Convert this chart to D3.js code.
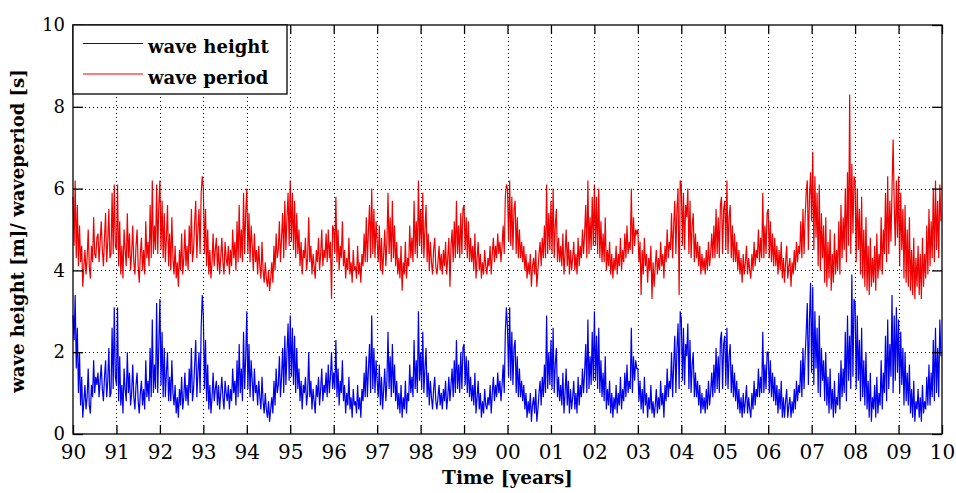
<!DOCTYPE html>
<html>
<head>
<meta charset="utf-8">
<script src="https://cdn.jsdelivr.net/npm/d3@7"></script>
<style>
  html, body { margin: 0; padding: 0; background: #fff; }
  svg { display: block; }
</style>
</head>
<body>
<svg id="chart" width="956" height="493"></svg>
<script>
// Time axis: 1990 to 2010, 40 samples per year
const startYear = 1990;
const endYear = 2010;
const samplesPerYear = 40;

const yearTickLabels = ["90","91","92","93","94","95","96","97","98","99","00","01","02","03","04","05","06","07","08","09","10"];
const valueTicks = [0, 2, 4, 6, 8, 10];

const seriesNames = ["wave height", "wave period"];
const seriesColors = ["#0000f0", "#f00000"];

// Significant wave height [m]
const waveHeight = [
  // 1990
  2.9,2.3,3.4,1.6,2.6,1.0,2.0,0.7,1.4,0.4,0.8,1.2,0.6,0.9,1.6,0.7,0.5,1.2,0.9,1.8,1.0,1.4,1.2,1.5,0.9,1.3,1.7,1.1,0.8,1.4,1.8,0.9,1.3,2.1,0.9,1.0,2.6,1.1,3.1,1.4,
  // 1991
  1.2,3.1,0.8,1.9,0.7,1.2,0.5,1.6,1.1,0.8,2.0,1.0,1.5,0.7,1.0,1.7,0.9,0.6,1.2,1.5,0.8,0.5,1.0,1.3,0.7,1.1,0.6,1.8,0.9,1.3,0.8,2.1,0.9,2.8,1.0,1.7,1.1,3.2,1.0,2.2,
  // 1992
  3.3,1.2,2.5,0.9,2.1,0.9,1.5,2.0,0.8,1.4,0.8,1.8,1.0,0.7,1.2,0.5,0.9,0.4,1.1,0.7,1.4,0.6,0.9,1.5,0.8,1.2,0.7,1.6,1.0,2.1,0.8,1.1,1.7,2.3,0.9,1.5,2.0,1.0,2.6,3.4,
  // 1993
  2.9,1.1,2.3,0.8,1.7,0.6,1.2,0.5,0.9,1.5,0.8,1.1,1.3,0.7,1.2,0.6,1.0,1.4,0.9,0.6,1.3,1.0,0.8,1.2,0.6,1.1,0.8,1.6,1.0,1.3,0.7,1.8,0.9,2.2,1.0,1.6,0.8,2.5,1.1,1.9,
  // 1994
  3.0,1.1,2.2,0.9,1.8,1.3,0.8,1.6,1.0,1.2,0.7,1.3,0.9,0.6,1.4,0.8,0.5,1.0,0.6,0.4,0.8,0.3,0.6,0.9,0.5,1.3,0.7,1.6,1.0,1.2,1.9,0.9,1.4,2.1,1.0,2.4,1.2,2.0,2.7,1.3,
  // 1995
  2.9,1.4,2.6,1.2,2.4,1.0,2.1,1.1,1.6,0.8,1.3,0.6,1.2,1.0,1.4,0.7,1.0,2.0,0.9,1.3,0.6,1.1,0.8,0.5,1.2,0.9,1.4,0.7,1.1,1.6,0.8,1.2,1.0,1.5,0.9,1.7,1.0,1.4,2.0,1.1,
  // 1996
  1.5,1.1,2.3,0.9,1.6,0.7,1.3,1.0,1.8,0.8,1.2,0.5,1.0,0.7,1.4,0.6,0.9,0.4,1.1,0.7,0.8,0.5,1.2,0.6,0.9,0.4,1.1,0.8,1.5,0.9,1.9,0.9,1.6,2.2,1.0,2.9,1.1,2.1,1.0,1.8,
  // 1997
  1.3,0.9,1.7,0.7,1.4,0.6,1.1,1.6,0.8,1.3,2.5,1.1,1.9,0.9,2.2,1.0,1.7,0.8,1.3,0.6,1.0,0.5,1.2,0.4,0.9,0.6,1.3,0.5,1.0,0.8,1.7,1.0,1.4,0.9,2.3,1.1,1.8,1.0,3.0,1.3,
  // 1998
  2.0,1.1,2.5,1.0,1.6,2.1,0.9,1.5,0.7,1.3,0.9,0.6,1.1,1.4,0.8,0.6,0.9,1.2,0.7,1.0,0.6,1.1,0.8,1.3,0.6,0.9,1.4,0.8,1.2,1.6,0.9,1.8,1.0,2.3,1.1,1.7,1.0,2.0,1.1,2.1,
  // 1999
  2.2,1.2,1.9,1.0,1.8,0.9,1.4,0.8,1.2,0.7,1.5,0.5,0.9,1.3,0.6,1.0,0.4,0.8,0.5,1.1,0.7,0.6,0.9,0.7,1.2,0.5,1.0,1.4,0.8,1.2,0.9,1.5,1.0,1.3,0.8,1.2,1.7,1.0,2.5,3.1,
  // 2000
  2.6,1.4,3.1,1.3,2.5,1.2,2.1,2.3,1.0,1.9,0.9,1.6,0.9,1.3,0.8,1.2,0.6,1.0,0.4,0.8,0.5,1.0,0.3,0.7,0.9,0.5,1.1,0.3,0.6,1.0,1.3,0.7,1.4,0.9,1.7,1.0,2.9,1.1,2.0,1.2,
  // 2001
  2.3,1.1,2.6,1.0,1.7,2.1,0.9,1.4,0.8,1.2,0.7,1.5,0.5,1.0,1.6,0.7,1.3,0.5,1.1,0.6,0.9,1.3,0.6,1.0,0.5,1.4,0.7,1.2,0.9,1.6,1.0,1.5,2.2,1.0,2.8,1.1,1.9,1.2,2.5,1.3,
  // 2002
  3.0,1.3,2.4,1.1,2.6,1.0,1.8,0.9,1.5,0.8,1.9,0.6,1.1,0.7,1.3,0.5,1.0,0.4,0.9,0.6,1.2,0.5,1.0,0.7,1.4,0.6,1.1,0.8,1.5,0.9,1.7,1.0,1.3,1.1,2.6,1.0,1.9,1.3,1.8,1.6,
  // 2003
  1.6,0.8,1.3,0.6,1.1,0.5,1.4,0.7,1.0,0.4,0.9,0.6,1.2,0.5,0.8,0.4,0.7,1.1,0.5,0.9,0.6,1.3,0.7,1.0,0.4,1.2,0.8,1.6,0.9,1.3,1.1,2.0,0.9,1.7,2.4,1.0,2.1,2.7,1.1,3.0,
  // 2004
  2.8,1.3,2.6,1.2,2.2,1.9,2.7,1.1,2.3,1.0,1.7,2.0,0.9,1.5,0.9,1.3,0.7,1.2,0.5,1.0,0.6,0.9,0.5,1.1,0.6,1.3,0.7,1.0,1.5,0.9,1.7,1.0,2.1,1.1,1.9,1.0,2.3,2.5,1.1,2.2,
  // 2005
  2.4,1.2,2.6,1.1,1.9,2.2,1.0,1.7,0.9,1.5,0.8,1.3,0.6,1.1,0.5,0.9,0.4,1.0,0.5,0.8,1.2,0.5,0.9,0.6,0.4,1.0,0.6,1.3,0.7,1.1,0.9,1.6,0.9,1.4,1.0,2.5,1.0,1.7,1.1,2.0,
  // 2006
  2.0,1.0,1.8,0.9,1.5,0.8,1.4,0.7,1.2,0.5,1.1,0.6,1.3,0.4,0.9,0.4,0.8,1.1,0.4,0.7,0.9,0.4,0.8,0.5,1.1,0.6,1.3,0.8,1.2,1.0,1.8,0.9,2.1,1.1,1.9,2.5,3.2,1.2,2.8,3.7,
  // 2007
  1.5,3.6,1.2,3.0,1.6,2.6,1.0,2.9,0.9,2.1,1.3,1.8,0.8,2.0,0.7,1.4,0.5,1.6,0.6,1.1,0.4,1.3,0.5,0.9,0.7,1.5,0.6,1.8,0.9,1.6,1.0,2.5,0.8,2.9,1.3,2.4,1.1,3.9,1.4,3.3,
  // 2008
  3.2,1.1,2.9,1.3,2.3,0.8,2.6,0.9,1.8,0.7,2.0,0.6,1.3,0.4,1.5,0.3,0.9,0.6,1.2,0.4,1.4,0.5,1.0,0.7,1.8,0.6,1.5,1.0,2.4,0.8,2.8,1.1,2.2,1.4,3.4,1.0,2.9,1.3,3.1,1.5,
  // 2009
  2.8,1.0,2.5,1.2,2.1,0.7,2.0,0.8,1.5,0.7,1.7,0.5,1.1,0.4,1.3,0.3,0.8,0.6,1.1,0.4,0.9,0.3,1.2,0.5,0.8,0.6,1.4,0.7,1.7,0.7,1.5,0.9,2.3,0.8,2.6,1.0,2.1,0.9,2.8,1.9
];

// Mean wave period [s]
const wavePeriod = [
  // 1990
  5.8,4.6,6.2,4.3,5.6,4.1,5.1,4.2,4.6,3.6,4.1,4.5,3.9,4.3,5.0,4.1,3.8,4.6,4.2,5.3,4.4,4.3,4.8,4.9,4.2,4.7,5.2,4.5,4.1,4.8,5.4,4.2,4.7,5.5,4.3,4.4,5.9,4.4,6.1,4.6,
  // 1991
  4.5,6.1,4.1,5.2,3.9,4.6,3.8,5.0,4.5,4.1,5.4,4.3,4.9,4.0,4.4,5.1,4.2,3.9,4.6,5.0,4.1,3.7,4.4,4.8,4.0,4.5,3.9,5.2,4.3,4.7,4.1,5.6,4.3,6.2,4.4,5.1,4.5,6.1,4.4,5.6,
  // 1992
  6.2,4.5,5.7,4.3,5.4,4.2,4.8,5.6,4.1,4.9,4.0,5.3,4.3,3.9,4.6,3.8,4.2,3.6,4.5,4.0,4.9,3.9,4.3,5.0,4.1,4.6,4.0,5.1,4.4,5.5,4.2,4.5,5.2,5.7,4.3,5.0,5.5,4.4,5.9,6.3,
  // 1993
  6.0,4.4,5.5,4.1,5.0,3.9,4.5,3.8,4.2,4.9,4.1,4.5,4.8,4.0,4.6,3.9,4.3,4.8,4.2,3.9,4.7,4.3,4.1,4.6,3.9,4.5,4.1,5.0,4.3,4.7,4.0,5.2,4.2,5.6,4.3,5.0,4.2,5.9,4.4,5.4,
  // 1994
  6.0,4.4,5.4,4.2,5.1,4.6,4.0,4.9,4.2,4.5,3.9,4.6,4.1,3.8,4.7,4.0,3.7,4.2,3.8,3.6,4.0,3.5,3.8,4.2,3.7,4.6,4.0,4.9,4.3,4.5,5.2,4.2,4.8,5.4,4.3,5.7,4.5,5.3,5.9,4.6,
  // 1995
  6.2,4.7,5.9,4.5,5.7,4.3,5.4,4.4,5.0,4.1,4.7,3.9,4.5,4.3,4.8,4.0,4.3,5.3,4.2,4.6,3.9,4.4,4.1,3.8,4.5,4.2,4.8,4.0,4.4,5.0,4.1,4.5,4.3,4.9,4.2,5.0,4.3,4.7,3.3,5.1,
  // 1996
  5.0,4.4,5.8,4.2,5.0,4.0,4.6,4.3,5.2,4.1,4.5,3.8,4.3,4.0,4.8,3.9,4.2,3.7,4.5,4.0,4.1,3.8,4.6,3.9,4.2,3.7,4.4,4.1,4.9,4.2,5.3,4.2,5.0,5.6,4.3,6.0,4.4,5.5,4.3,5.2,
  // 1997
  4.7,4.2,5.1,4.0,4.8,3.9,4.4,5.0,4.1,4.7,5.9,4.4,5.3,4.2,5.7,4.3,5.1,4.1,4.7,3.9,4.3,3.8,4.6,3.5,4.2,3.9,4.7,3.8,4.3,4.1,5.1,4.3,4.8,4.2,5.7,4.4,5.2,4.3,6.2,4.6,
  // 1998
  5.5,4.4,5.9,4.3,5.0,5.6,4.2,4.9,4.0,4.7,4.2,3.9,4.5,4.8,4.1,3.9,4.2,4.6,4.0,4.4,3.9,4.5,4.1,4.7,3.9,4.3,4.8,3.6,4.6,5.0,4.2,5.2,4.3,5.7,4.4,5.1,4.3,5.4,4.4,5.5,
  // 1999
  5.6,4.5,5.3,4.3,5.2,4.2,4.8,4.2,4.6,4.0,4.9,3.8,4.3,4.7,4.0,4.4,3.8,4.2,3.9,4.5,4.1,3.9,4.3,4.1,4.6,3.9,4.4,4.8,4.2,4.6,4.3,4.9,4.4,4.7,4.2,4.6,5.1,4.4,5.8,6.1,
  // 2000
  6.0,4.7,6.2,4.6,5.8,4.5,5.5,5.7,4.4,5.3,4.3,5.0,4.3,4.7,4.2,4.6,4.0,4.4,3.8,4.2,3.9,4.4,3.6,4.1,4.3,3.9,4.5,3.6,4.0,4.4,4.7,4.1,4.8,4.3,5.1,4.3,6.1,4.4,5.4,4.5,
  // 2001
  5.7,4.4,6.0,4.3,5.1,5.5,4.2,4.8,4.2,4.6,4.1,4.9,3.9,4.4,5.0,4.1,4.7,3.9,4.5,4.0,4.3,4.7,4.0,4.4,3.9,4.8,4.1,4.6,4.3,5.0,4.4,4.9,5.6,4.3,6.2,4.4,5.3,4.5,5.8,4.6,
  // 2002
  6.1,4.6,5.8,4.4,6.0,4.3,5.2,4.2,4.9,4.2,5.3,4.0,4.5,4.1,4.7,3.9,4.4,3.8,4.3,4.0,4.6,3.9,4.4,4.1,4.8,4.0,4.5,4.2,4.9,4.3,5.1,4.4,4.7,4.5,6.0,4.4,5.3,4.6,5.0,4.9,
  // 2003
  5.0,4.2,4.7,3.4,4.5,3.9,4.8,4.1,4.4,3.7,4.3,4.0,4.6,3.3,4.2,3.6,4.1,4.5,3.9,4.3,4.0,4.7,4.1,4.4,3.8,4.6,4.2,5.0,4.3,4.7,4.5,5.4,4.3,5.1,5.7,4.4,5.5,6.0,3.4,6.2,
  // 2004
  6.1,4.6,5.9,4.5,5.6,5.3,6.0,4.4,5.7,4.3,5.1,5.4,4.2,4.9,4.3,4.7,4.1,4.6,3.9,4.4,4.0,4.3,3.9,4.5,4.0,4.7,4.1,4.4,4.9,4.3,5.1,4.3,5.5,4.4,5.3,4.3,5.6,5.8,4.4,5.5,
  // 2005
  5.7,4.5,6.2,4.4,5.3,5.6,4.3,5.1,4.2,4.9,4.2,4.7,4.0,4.5,3.9,4.3,3.7,4.4,3.9,4.2,4.6,3.9,4.3,4.0,3.8,4.4,4.0,4.7,4.1,4.5,4.3,5.0,4.2,4.8,4.3,5.9,4.3,5.1,4.4,5.4,
  // 2006
  5.5,4.3,5.2,4.2,4.9,4.1,4.8,4.1,4.6,3.9,4.5,4.0,4.7,3.8,4.3,3.7,4.2,4.6,3.8,4.1,4.3,3.6,4.2,3.9,4.5,4.0,4.7,4.2,4.6,4.4,5.2,4.3,5.5,4.4,5.3,5.9,6.2,4.5,5.8,6.4,
  // 2007
  5.2,6.9,4.5,6.3,4.8,5.9,4.1,6.1,4.0,5.4,4.3,5.1,3.7,5.3,3.6,4.7,3.8,5.0,3.5,4.4,3.7,4.9,3.9,4.5,4.0,5.2,3.9,5.6,4.3,5.3,4.5,6.0,4.2,6.4,4.6,8.3,4.4,6.6,4.9,6.3,
  // 2008
  6.2,4.2,6.0,4.5,5.5,3.9,5.8,3.8,5.0,3.6,5.3,3.5,4.6,3.4,4.8,3.6,4.3,3.7,4.6,3.5,4.9,3.8,4.4,4.0,5.3,3.9,5.0,4.4,5.9,4.2,6.3,4.4,5.7,4.7,6.0,7.2,5.6,4.6,6.2,4.8,
  // 2009
  6.3,4.1,5.9,4.5,5.5,3.8,5.6,3.7,5.0,3.6,5.3,3.5,4.5,3.4,4.8,3.3,4.3,3.6,4.6,3.4,4.4,3.3,4.8,3.6,4.4,3.8,5.1,3.9,5.5,4.1,5.2,4.3,6.0,4.2,6.2,4.5,5.7,4.3,6.1,5.2
];

const svg = d3.select("#chart");

const plot = { left: 73, right: 942, top: 25, bottom: 434 };

const x = d3.scaleLinear().domain([startYear, endYear]).range([plot.left, plot.right]);
const y = d3.scaleLinear().domain([0, 10]).range([plot.bottom, plot.top]);

const yearTicks = d3.range(startYear, endYear + 1);
const timeOf = i => startYear + i / samplesPerYear;

// Data lines
const line = d3.line()
  .x((d, i) => x(timeOf(i)))
  .y(d => y(d));

[waveHeight, wavePeriod].forEach((series, k) => {
  svg.append("path")
    .datum(series)
    .attr("fill", "none")
    .attr("stroke", seriesColors[k])
    .attr("stroke-width", 1.2)
    .attr("stroke-linejoin", "miter")
    .attr("d", line);
});

// Dotted grid
const grid = svg.append("g").attr("stroke", "#000").attr("stroke-width", 1).attr("stroke-dasharray", "1,3");
grid.selectAll("line.v")
  .data(yearTicks.slice(1, -1))
  .join("line")
  .attr("class", "v")
  .attr("x1", d => Math.round(x(d)) + 0.5).attr("x2", d => Math.round(x(d)) + 0.5)
  .attr("y1", plot.top).attr("y2", plot.bottom);
grid.selectAll("line.h")
  .data(valueTicks.slice(1, -1))
  .join("line")
  .attr("class", "h")
  .attr("y1", d => Math.round(y(d)) + 0.5).attr("y2", d => Math.round(y(d)) + 0.5)
  .attr("x1", plot.left).attr("x2", plot.right);

// Axes with inward ticks
const fmtYear = d => yearTickLabels[d - startYear];

const xAxis = svg.append("g")
  .attr("transform", `translate(0,${plot.bottom})`)
  .call(d3.axisBottom(x).tickValues(yearTicks).tickFormat(fmtYear).tickSize(-9).tickPadding(11));
xAxis.selectAll("text").attr("font-family", "'DejaVu Serif', serif").attr("font-size", 20).attr("fill", "#000");

svg.append("g")
  .attr("transform", `translate(0,${plot.top})`)
  .call(d3.axisTop(x).tickValues(yearTicks).tickFormat("").tickSize(-9));

const yAxis = svg.append("g")
  .attr("transform", `translate(${plot.left},0)`)
  .call(d3.axisLeft(y).tickValues(valueTicks).tickSize(-10).tickPadding(8));
yAxis.selectAll("text").attr("font-family", "'DejaVu Serif', serif").attr("font-size", 18).attr("fill", "#000");

svg.append("g")
  .attr("transform", `translate(${plot.right},0)`)
  .call(d3.axisRight(y).tickValues(valueTicks).tickFormat("").tickSize(-10));

svg.selectAll(".domain").remove();
svg.selectAll(".tick line").attr("stroke", "#000").attr("stroke-width", 1.3);

// Frame
svg.append("rect")
  .attr("x", plot.left).attr("y", plot.top)
  .attr("width", plot.right - plot.left).attr("height", plot.bottom - plot.top)
  .attr("fill", "none").attr("stroke", "#000").attr("stroke-width", 1.3);

// Axis titles
svg.append("text")
  .attr("x", (plot.left + plot.right) / 2)
  .attr("y", 484)
  .attr("text-anchor", "middle")
  .attr("font-family", "'DejaVu Serif', serif")
  .attr("font-weight", "bold")
  .attr("font-size", 18.5)
  .text("Time [years]");

svg.append("text")
  .attr("transform", "translate(24,231) rotate(-90)")
  .attr("text-anchor", "middle")
  .attr("font-family", "'DejaVu Serif', serif")
  .attr("font-weight", "bold")
  .attr("font-size", 18)
  .text("wave height [m]/ waveperiod [s]");

// Legend
const legend = svg.append("g");
legend.append("rect")
  .attr("x", plot.left).attr("y", plot.top)
  .attr("width", 214).attr("height", 69)
  .attr("fill", "#fff").attr("stroke", "#000").attr("stroke-width", 1.3);
seriesNames.forEach((name, k) => {
  const ly = 43.5 + k * 30.5;
  legend.append("line")
    .attr("x1", 83).attr("x2", 143)
    .attr("y1", ly).attr("y2", ly)
    .attr("stroke", seriesColors[k]).attr("stroke-width", 1);
  legend.append("text")
    .attr("x", 148).attr("y", ly + 9.5)
    .attr("font-family", "'DejaVu Serif', serif")
    .attr("font-weight", "bold")
    .attr("font-size", 18)
    .text(name);
});
</script>
</body>
</html>
